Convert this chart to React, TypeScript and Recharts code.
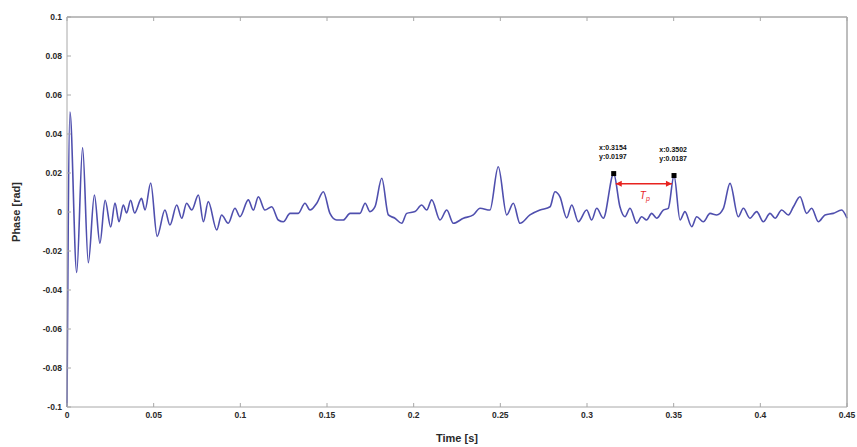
import { LineChart, Line, XAxis, YAxis, ReferenceDot, ReferenceLine } from 'recharts';

// extrema (time in s, phase in rad)
const TIME = [
  0, 0.0017, 0.0056, 0.009, 0.0123, 0.0158, 0.019, 0.022, 0.0252, 0.0277, 0.03, 0.0325, 0.0344, 0.0367, 0.039,
  0.043, 0.045, 0.0483, 0.052, 0.0565, 0.0594, 0.0633, 0.0662, 0.069, 0.072, 0.0758, 0.0787, 0.0815, 0.0864,
  0.0892, 0.093, 0.0969, 0.0998, 0.1046, 0.1075, 0.1104, 0.1142, 0.1181, 0.1219, 0.1248, 0.1287, 0.1334, 0.1373,
  0.1402, 0.1441, 0.1479, 0.1517, 0.1556, 0.1594, 0.1633, 0.169, 0.172, 0.1748, 0.1777, 0.1816, 0.1854, 0.1892,
  0.1931, 0.196, 0.2008, 0.2046, 0.2075, 0.2104, 0.2152, 0.2191, 0.2229, 0.2287, 0.2344, 0.2383, 0.244, 0.2488,
  0.2537, 0.2575, 0.2613, 0.2671, 0.2729, 0.2787, 0.2815, 0.2844, 0.2883, 0.2912, 0.295, 0.2998, 0.3027, 0.3056,
  0.3094, 0.3154, 0.319, 0.3219, 0.3248, 0.3287, 0.3315, 0.3344, 0.3373, 0.3402, 0.344, 0.3469, 0.3502, 0.3537,
  0.3565, 0.3604, 0.3633, 0.3671, 0.371, 0.3748, 0.3787, 0.3825, 0.3873, 0.3902, 0.394, 0.3979, 0.4017, 0.4056,
  0.4085, 0.4123, 0.4162, 0.4191, 0.4229, 0.4267, 0.4296, 0.4335, 0.4373, 0.4421, 0.4469, 0.45,
];
const PHASE = [
  -0.1, 0.0513, -0.031, 0.033, -0.026, 0.0087, -0.016, 0.006, -0.0077, 0.0046, -0.005, 0.0036, -0.0005, 0.006, -0.0005,
  0.007, 0.001, 0.0149, -0.0125, 0.001, -0.0067, 0.0036, -0.0032, 0.0045, 0.001, 0.0087, -0.005, 0.0053, -0.0092,
  -0.0015, -0.0058, 0.0019, -0.0024, 0.0062, 0.001, 0.0078, 0.001, 0.0027, -0.0041, -0.005, -0.0007, -0.0007, 0.0045,
  0.001, 0.0045, 0.0104, -0.0007, -0.0041, -0.0041, -0.0007, -0.0007, 0.0045, 0.0002, 0.0027, 0.0173, -0.0015, -0.0032,
  -0.0058, -0.0007, 0.0002, 0.0036, 0.001, 0.0062, -0.0041, 0.001, -0.0058, -0.0032, -0.0015, 0.0019, 0.001, 0.0232,
  -0.0015, 0.0045, -0.0058, -0.0015, 0.001, 0.0027, 0.0104, 0.0078, -0.003, 0.0036, -0.005, 0.001, -0.0041, 0.0019,
  -0.0032, 0.0197, 0.0027, -0.0024, 0.0019, -0.0058, -0.0024, -0.0041, -0.0007, -0.0032, 0.001, 0.0019, 0.0187, -0.0041,
  0.0002, -0.0075, -0.0024, -0.005, -0.0007, -0.0015, 0.0019, 0.0147, -0.0024, 0.0019, -0.0032, 0.0002, -0.005, -0.0007,
  -0.0032, 0.001, -0.0015, 0.0027, 0.0078, -0.0007, 0.0019, -0.005, -0.0015, -0.0007, 0.001, -0.0032,
];

const X_TICKS = [0, 0.05, 0.1, 0.15, 0.2, 0.25, 0.3, 0.35, 0.4, 0.45];
const Y_TICKS = [-0.1, -0.08, -0.06, -0.04, -0.02, 0, 0.02, 0.04, 0.06, 0.08, 0.1];

// data tips and the period arrow
const TIPS = [
  { x: 0.3154, y: 0.0197 },
  { x: 0.3502, y: 0.0187 },
];
const ARROW_Y = 0.0145;

const data = TIME.map((t, i) => ({ t, v: PHASE[i] }));

const AXIS = '#a8a8a8';
const TXT = '#2a2a2a';
const FONT = '"Liberation Sans", Arial, sans-serif';

const fmt = (v: number) => String(Number(v.toFixed(2)));

const BottomTick = ({ x, y, payload }: any) => (
  <g>
    <line x1={x} x2={x} y1={y} y2={y - 4} stroke={AXIS} />
    <text x={x} y={y + 11} textAnchor="middle" fontSize={8.5} fontWeight="bold" fill={TXT} fontFamily={FONT}>
      {fmt(payload.value)}
    </text>
  </g>
);
const TopTick = ({ x, y }: any) => <line x1={x} x2={x} y1={y} y2={y + 4} stroke={AXIS} />;
const LeftTick = ({ x, y, payload }: any) => (
  <g>
    <line x1={x} x2={x + 4} y1={y} y2={y} stroke={AXIS} />
    <text x={x - 5} y={y + 3} textAnchor="end" fontSize={8.5} fontWeight="bold" fill={TXT} fontFamily={FONT}>
      {fmt(payload.value)}
    </text>
  </g>
);
const RightTick = ({ x, y }: any) => <line x1={x} x2={x - 4} y1={y} y2={y} stroke={AXIS} />;

const TipDot = (label: string[]) => (props: any) => {
  const { cx, cy } = props;
  return (
    <g>
      <rect x={cx - 2.5} y={cy - 2.5} width={5} height={5} fill="#000" />
      <text x={cx + 13} y={cy - 24} textAnchor="end" fontSize={7} fontWeight="bold" fill="#111" fontFamily={FONT}>
        {label[0]}
      </text>
      <text x={cx + 13} y={cy - 15} textAnchor="end" fontSize={7} fontWeight="bold" fill="#111" fontFamily={FONT}>
        {label[1]}
      </text>
    </g>
  );
};

const ArrowHead = (dir: number) => (props: any) => {
  const { cx, cy } = props;
  return <path d={`M${cx},${cy} L${cx - dir * 6},${cy - 3} L${cx - dir * 6},${cy + 3} Z`} fill="#e8231f" />;
};

export default function App() {
  return (
    <div style={{ position: 'absolute', left: 0, top: 0, background: '#fff' }}>
      <LineChart width={857} height={447} data={data} margin={{ top: 16, right: 9, bottom: 0, left: 0 }}>
        <XAxis
          xAxisId="b"
          dataKey="t"
          type="number"
          domain={[0, 0.45]}
          ticks={X_TICKS}
          interval={0}
          height={40}
          tickSize={0}
          tickMargin={0}
          tickLine={false}
          stroke={AXIS}
          tick={<BottomTick />}
          label={{ value: 'Time [s]', position: 'insideBottom', offset: 5, fontSize: 11, fontWeight: 'bold', fill: TXT, fontFamily: FONT }}
        />
        <XAxis
          xAxisId="t"
          orientation="top"
          dataKey="t"
          type="number"
          domain={[0, 0.45]}
          ticks={X_TICKS}
          interval={0}
          height={1}
          tickSize={0}
          tickMargin={0}
          tickLine={false}
          stroke={AXIS}
          tick={<TopTick />}
        />
        <YAxis
          yAxisId="l"
          type="number"
          domain={[-0.1, 0.1]}
          ticks={Y_TICKS}
          interval={0}
          width={67}
          tickSize={0}
          tickMargin={0}
          tickLine={false}
          stroke={AXIS}
          tick={<LeftTick />}
          label={{ value: 'Phase [rad]', angle: -90, position: 'insideLeft', offset: 16, fontSize: 11, fontWeight: 'bold', fill: TXT, fontFamily: FONT, style: { textAnchor: 'middle' } }}
        />
        <YAxis
          yAxisId="r"
          orientation="right"
          type="number"
          domain={[-0.1, 0.1]}
          ticks={Y_TICKS}
          interval={0}
          width={1}
          tickSize={0}
          tickMargin={0}
          tickLine={false}
          stroke={AXIS}
          tick={<RightTick />}
        />
        <ReferenceLine xAxisId="b" yAxisId="l" y={0.1} stroke={AXIS} />
        <ReferenceLine xAxisId="b" yAxisId="l" x={0.45} stroke={AXIS} />
        <Line
          xAxisId="b"
          yAxisId="l"
          type="monotone"
          dataKey="v"
          stroke="#4f4fae"
          strokeWidth={1.6}
          dot={false}
          isAnimationActive={false}
        />
        <ReferenceLine
          xAxisId="b"
          yAxisId="l"
          segment={[{ x: TIPS[0].x + 0.0012, y: ARROW_Y }, { x: TIPS[1].x - 0.0012, y: ARROW_Y }]}
          stroke="#e8231f"
          strokeWidth={1.5}
        />
        <ReferenceDot xAxisId="b" yAxisId="l" x={TIPS[0].x + 0.0012} y={ARROW_Y} shape={ArrowHead(-1)} />
        <ReferenceDot xAxisId="b" yAxisId="l" x={TIPS[1].x - 0.0012} y={ARROW_Y} shape={ArrowHead(1)} />
        <ReferenceDot
          xAxisId="b"
          yAxisId="l"
          x={(TIPS[0].x + TIPS[1].x) / 2}
          y={ARROW_Y}
          shape={(p: any) => (
            <text x={p.cx - 4} y={p.cy + 15} fontSize={10} fontStyle="italic" fill="#e8231f" fontFamily={FONT}>
              T<tspan fontSize={7} dy={2}>p</tspan>
            </text>
          )}
        />
        <ReferenceDot xAxisId="b" yAxisId="l" x={TIPS[0].x} y={TIPS[0].y} shape={TipDot([`x:${TIPS[0].x}`, `y:${TIPS[0].y}`])} />
        <ReferenceDot xAxisId="b" yAxisId="l" x={TIPS[1].x} y={TIPS[1].y} shape={TipDot([`x:${TIPS[1].x}`, `y:${TIPS[1].y}`])} />
      </LineChart>
    </div>
  );
}
